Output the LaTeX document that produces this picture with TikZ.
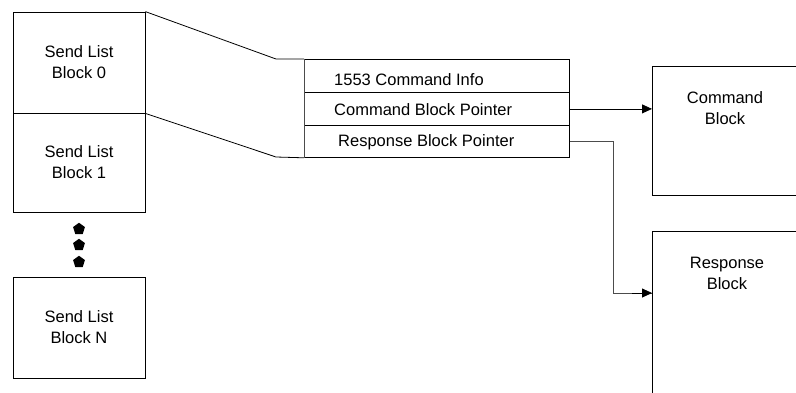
\documentclass[tikz,border=0pt]{standalone}
\usepackage{fontspec}
\setmainfont{Liberation Sans}
\usetikzlibrary{arrows.meta,shapes.geometric}
\begin{document}
\begin{tikzpicture}[x=1pt,y=-1pt,
  every node/.style={font=\fontsize{16.5}{21}\selectfont, inner sep=0pt},
  ln/.style={line width=0.8pt, draw=black},
  grayln/.style={line width=0.9pt, draw=black!70},
  blockbox/.style={ln, rectangle, minimum width=132pt, align=center},
  rowbox/.style={ln, rectangle, minimum width=265pt},
  ptr/.style={ln, -{Triangle[length=10pt,width=9pt]}},
  dotmark/.style={regular polygon, regular polygon sides=5, fill=black, minimum size=12.5pt}
]
\useasboundingbox (0,0) rectangle (796,392);

% send list blocks
\node[blockbox, minimum height=101pt] (b0) at (79,62.5) {Send List\\Block 0};
\node[blockbox, minimum height=99pt] (b1) at (79,162.5) {Send List\\Block 1};
\node[blockbox, minimum height=101pt] (bn) at (79,327.5) {Send List\\Block N};

% continuation marks
\node[dotmark] (d1) at (79,229) {};
\node[dotmark] (d2) at (79,245) {};
\node[dotmark] (d3) at (79,262) {};

% expanded block contents
\node[rowbox, minimum height=33pt, anchor=north west] (r1) at (304,59) {};
\node[rowbox, minimum height=33pt, anchor=north west] (r2) at (304,92) {};
\node[rowbox, minimum height=32pt, anchor=north west] (r3) at (304,125) {};
\draw[grayln] (r1.north west) -- (r3.south west);
\node[anchor=west] (t1) at (334,80) {1553 Command Info};
\node[anchor=west] (t2) at (334,110) {Command Block Pointer};
\node[anchor=west] (t3) at (338,142) {Response Block Pointer};

% zoom lines from block 0 to its contents
\coordinate (zt) at (276,59);
\coordinate (zb) at (276,157);
\draw[ln] (b0.north east) -- (zt) -- (r1.north west);
\draw[ln] (b0.south east) -- (zb) -- (r3.south west);

% target blocks (run off the right and bottom edges)
\coordinate (cmdTL) at (652,66);
\coordinate (cmdBL) at (652,195);
\coordinate (rspTL) at (652,231);
\coordinate (rspBL) at (652,400);
\draw[ln] (800,66) -- (cmdTL) -- (cmdBL) -- (800,195);
\draw[ln] (800,231) -- (rspTL) -- (rspBL);
\node[align=center] (cmd) at (725,108.5) {Command\\Block};
\node[align=center] (rsp) at (727,273) {Response\\Block};

% pointers
\coordinate (bend) at (613,0);
\draw[ptr] (r2.east) -- (r2.east -| cmdTL);
\draw[grayln] (r3.east) -- (r3.east -| bend) -- (bend |- 0,293) -- (cmdTL |- 0,293);
\draw[ptr] ([xshift=-20pt]cmdTL |- 0,293) -- (cmdTL |- 0,293);
\end{tikzpicture}
\end{document}
